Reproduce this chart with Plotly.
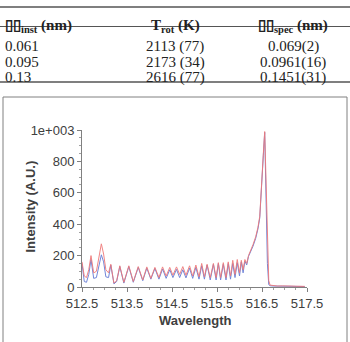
import plotly.graph_objects as go

W, H = 350, 342

# ---- table data ----
col_headers = ["<b>▯▯<sub>inst</sub> (nm)</b>", "<b>T<sub>rot</sub> (K)</b>", "<b>▯▯<sub>spec</sub> (nm)</b>"]
col_inst = ["0.061", "0.095", "0.13"]
col_trot = ["2113 (77)", "2173 (34)", "2616 (77)"]
col_spec = ["0.069(2)", "0.0961(16)", "0.1451(31)"]

# ---- spectrum data ----
wavelength = [512.50, 512.55, 512.60, 512.65, 512.70, 512.76, 512.82, 512.88, 512.93, 512.98,
              513.03, 513.09, 513.14, 513.21, 513.27, 513.34, 513.43, 513.54, 513.64, 513.75,
              513.85, 513.94, 514.03, 514.12, 514.21, 514.29, 514.37, 514.45, 514.52, 514.60,
              514.67, 514.74, 514.81, 514.89, 514.96, 515.03, 515.10, 515.16, 515.22, 515.28,
              515.35, 515.42, 515.48, 515.53, 515.58, 515.64, 515.70, 515.75, 515.80, 515.85,
              515.90, 515.95, 516.00, 516.04, 516.08, 516.12, 516.16, 516.20, 516.25, 516.30,
              516.36, 516.41, 516.45, 516.49, 516.53, 516.56, 516.59, 516.62, 516.65, 516.68,
              516.75, 516.85, 516.95, 517.05, 517.15, 517.25, 517.35, 517.45]
intensity_red = [160, 70, 60, 110, 200, 90, 100, 200, 275, 210,
                 110, 90, 145, 25, 40, 135, 30, 135, 35, 130,
                 45, 128, 55, 125, 60, 128, 70, 125, 75, 128,
                 80, 130, 75, 135, 70, 140, 65, 150, 65, 145,
                 60, 150, 60, 155, 60, 155, 60, 160, 70, 170,
                 80, 175, 90, 170, 110, 175, 150, 200, 230, 270,
                 320, 380, 450, 620, 850, 990, 700, 300, 40, 12,
                 8, 6, 7, 8, 6, 5, 5, 4]
intensity_blue = [150, 35, 30, 80, 175, 55, 60, 150, 205, 160,
                  65, 60, 140, 20, 35, 130, 25, 130, 30, 125,
                  40, 120, 50, 118, 50, 115, 55, 110, 60, 112,
                  60, 110, 58, 120, 55, 125, 50, 135, 50, 140,
                  45, 145, 45, 150, 45, 145, 45, 150, 50, 150,
                  60, 155, 70, 160, 90, 165, 140, 195, 225, 260,
                  310, 370, 440, 610, 840, 985, 600, 150, 15, 8,
                  6, 5, 6, 5, 5, 4, 4, 3]

y_tickvals = [0, 200, 400, 600, 800, 1000]
y_ticktext = ["0", "200", "400", "600", "800", "1e+003"]
x_tickvals = [512.5, 513.5, 514.5, 515.5, 516.5, 517.5]


def px(x):
    return x / W


def py(y):
    return 1 - y / H


fig = go.Figure()
fig.add_trace(go.Scatter(x=wavelength, y=intensity_blue, mode="lines",
                         line=dict(color="#7286d8", width=1), showlegend=False))
fig.add_trace(go.Scatter(x=wavelength, y=intensity_red, mode="lines",
                         line=dict(color="#f07878", width=1), opacity=0.9, showlegend=False))

axis_font = dict(family="Liberation Sans, Arial, sans-serif", size=13, color="#404040")
fig.update_layout(
    template="none",
    autosize=False,
    width=W, height=H,
    margin=dict(l=0, r=0, t=0, b=0, pad=0, autoexpand=False),
    paper_bgcolor="white", plot_bgcolor="white",
    showlegend=False,
    xaxis=dict(domain=[px(82), px(307)], range=[512.5, 517.5], automargin=False,
               tickvals=x_tickvals, ticktext=[f"{v:.1f}" for v in x_tickvals],
               showgrid=False, zeroline=False, showline=True, linecolor="#808080", linewidth=1,
               ticks="outside", ticklen=4, tickcolor="#808080", tickfont=axis_font,
               minor=dict(ticks="outside", ticklen=2, tickcolor="#a0a0a0", dtick=0.25)),
    yaxis=dict(domain=[py(287), py(130)], range=[0, 1000], automargin=False,
               tickvals=y_tickvals, ticktext=y_ticktext,
               showgrid=False, zeroline=False, showline=True, linecolor="#808080", linewidth=1,
               ticks="outside", ticklen=4, tickcolor="#808080", tickfont=axis_font,
               minor=dict(ticks="outside", ticklen=2, tickcolor="#a0a0a0", dtick=50)),
)

# axis titles
fig.add_annotation(x=px(20), y=py(207), xref="paper", yref="paper", text="<b>Intensity (A.U.)</b>",
                   textangle=-90, showarrow=False,
                   font=dict(family="Liberation Sans, Arial, sans-serif", size=13, color="#404040"))
fig.add_annotation(x=px(195), y=py(330), xref="paper", yref="paper", text="<b>Wavelength</b>",
                   showarrow=False,
                   font=dict(family="Liberation Sans, Arial, sans-serif", size=13, color="#404040"))

# chart box
fig.add_shape(type="rect", xref="paper", yref="paper", x0=px(3), x1=px(347), y0=py(345), y1=py(97),
              line=dict(color="#808080", width=1), fillcolor="rgba(0,0,0,0)")

# table lines
for yline, wdt in [(7, 1.5), (26.5, 1), (82, 1.5)]:
    fig.add_shape(type="line", xref="paper", yref="paper", x0=0, x1=1, y0=py(yline), y1=py(yline),
                  line=dict(color="#555555", width=wdt))

tfont = dict(family="Liberation Serif, Times New Roman, serif", size=15, color="#222222")
row_y = [36, 51.5, 67]
fig.add_annotation(x=px(3), y=py(15), xref="paper", yref="paper", text=col_headers[0], showarrow=False,
                   xanchor="left", font=tfont)
fig.add_annotation(x=px(175), y=py(15), xref="paper", yref="paper", text=col_headers[1], showarrow=False,
                   xanchor="center", font=tfont)
fig.add_annotation(x=px(293), y=py(15), xref="paper", yref="paper", text=col_headers[2], showarrow=False,
                   xanchor="center", font=tfont)
for i, yy in enumerate(row_y):
    fig.add_annotation(x=px(3), y=py(yy), xref="paper", yref="paper", text=col_inst[i], showarrow=False,
                       xanchor="left", font=tfont)
    fig.add_annotation(x=px(175), y=py(yy), xref="paper", yref="paper", text=col_trot[i], showarrow=False,
                       xanchor="center", font=tfont)
    fig.add_annotation(x=px(293), y=py(yy), xref="paper", yref="paper", text=col_spec[i], showarrow=False,
                       xanchor="center", font=tfont)

fig.write_html("out.html")
